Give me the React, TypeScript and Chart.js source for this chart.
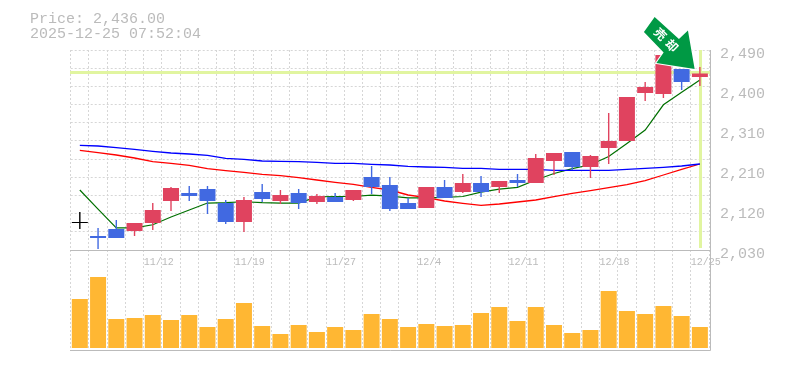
import React, { useEffect, useRef } from "react";
import { Chart, registerables } from "chart.js";

Chart.register(...registerables);

const dates = [
  "11/6","11/7","11/10","11/11","11/12","11/13","11/14","11/17","11/18","11/19",
  "11/20","11/21","11/25","11/26","11/27","11/28","12/1","12/2","12/3","12/4",
  "12/5","12/8","12/9","12/10","12/11","12/12","12/15","12/16","12/17","12/18",
  "12/19","12/22","12/23","12/24","12/25",
];
const shownDates = ["11/12","11/19","11/27","12/4","12/11","12/18","12/25"];

const open = [2092.1,2062.2,2078.3,2073.7,2092.1,2142.7,2161.1,2170.3,2138.1,2094.4,2163.4,2142.7,2161.1,2140.4,2151.9,2145,2197.9,2179.5,2138.1,2126.6,2174.9,2163.4,2184.1,2174.9,2191,2184.1,2234.7,2255.4,2220.9,2264.6,2280.7,2391.1,2388.8,2446.3,2427.9];
const close = [2092.1,2057.6,2057.6,2092.1,2122,2172.6,2154.2,2142.7,2094.4,2145,2147.3,2156.5,2138.1,2154.2,2140.4,2168,2174.9,2124.3,2124.3,2174.9,2149.6,2184.1,2163.4,2188.7,2184.1,2241.6,2253.1,2220.9,2246.2,2280.7,2381.9,2404.9,2478.5,2416.4,2436];
const high = [2117.4,2080.6,2099,2092.1,2138.1,2174.9,2177.2,2177.2,2145,2151.9,2181.8,2168,2170.3,2158.8,2161.1,2168,2223.2,2197.9,2149.6,2174.9,2191,2204.8,2200.2,2188.7,2204.8,2250.8,2253.1,2255.4,2248.5,2345.1,2381.9,2416.4,2478.5,2446.3,2450.9];
const low = [2078.3,2032.3,2057.6,2062.2,2076,2119.7,2142.7,2112.8,2089.8,2071.4,2140.4,2135.8,2124.3,2135.8,2140.4,2142.7,2158.8,2119.7,2124.3,2126.6,2149.6,2161.1,2151.9,2161.1,2174.9,2184.1,2202.5,2214,2195.6,2227.8,2280.7,2372.7,2379.6,2398,2407.2];

const maShort = [2168,2124,2081,2081,2088,2106,2122,2138,2139,2141,2139,2138,2138,2152,2153,2153,2156,2154,2150,2150,2151,2153,2163,2170,2174,2191,2206,2217,2226,2245,2275,2306,2364,2393,2421];
const maMid = [2270.8,2269.2,2265.3,2261.6,2257,2253.1,2250.8,2247.8,2240.9,2238.6,2234.7,2234,2233.1,2231.7,2229.4,2229.4,2227.1,2225.5,2222.5,2220.9,2220.2,2217.9,2217.9,2215.6,2215.6,2215.6,2213.3,2213.3,2213.3,2213.3,2215.6,2217.9,2220.2,2223.2,2227.8];
const maLong = [2259.3,2253.8,2248.5,2241.6,2233.1,2229.4,2224.8,2217,2212.4,2208.7,2204.1,2200.9,2196.3,2191,2185.7,2181.1,2174.2,2168,2156.5,2150.3,2142.7,2137.4,2132.8,2135.8,2140.4,2145,2152.6,2160.4,2166.4,2173.3,2180.2,2189.4,2202.5,2215.6,2227.8];

const volume = [4900,7100,2900,3000,3300,2800,3300,2100,2900,4500,2200,1400,2300,1600,2100,1800,3400,2900,2100,2400,2200,2300,3500,4100,2700,4100,2300,1500,1800,5700,3700,3400,4200,3200,2100];

const priceTicks = [2030,2122,2214,2306,2398,2490];
const priceTickLabels = ["2,030","2,120","2,210","2,310","2,400","2,490"];
const gridValues = [2030,2071.82,2113.64,2155.45,2197.27,2239.09,2280.91,2322.73,2364.55,2406.36,2448.18,2490];

const currentPrice = 2436;
const headerLines = ["Price: 2,436.00", "2025-12-25 07:52:04"];
const arrowLabel = ["売", "却"];

const GREY = "#bbbbbb";
const GRID = "#d6d6d6";
const RED = "#e0435f";
const BLUE = "#4169e1";
const mono = '"Liberation Mono", monospace';

const candleColor = (i: number) =>
  close[i] === open[i] ? "#000000" : close[i] > open[i] ? RED : BLUE;

const overlay = {
  id: "overlay",
  beforeDatasetsDraw(chart: any) {
    const { ctx, chartArea: a, scales } = chart;
    const yS = scales.y;
    const xS = scales.x;
    ctx.save();
    ctx.fillStyle = "#e1f5a0";
    const yNow = Math.round(yS.getPixelForValue(currentPrice));
    ctx.fillRect(a.left - 0.7, yNow - 2, a.right - a.left + 2, 3);
    const xNow = Math.round(xS.getPixelForValue(dates.length - 1));
    ctx.fillRect(xNow - 1, a.top, 3, yS.getPixelForValue(2030) - a.top - 2);
    ctx.strokeStyle = GREY;
    ctx.lineWidth = 1;
    const mid = Math.floor(yS.getPixelForValue(2030)) + 0.5;
    const bot = Math.floor(a.bottom) + 0.5;
    const rx = Math.floor(a.right) + 1.5;
    ctx.beginPath();
    ctx.moveTo(Math.floor(a.left), mid);
    ctx.lineTo(rx, mid);
    ctx.moveTo(Math.floor(a.left), bot);
    ctx.lineTo(rx, bot);
    ctx.moveTo(rx, a.top);
    ctx.lineTo(rx, bot);
    ctx.stroke();
    ctx.restore();
  },
  afterDraw(chart: any) {
    const { ctx, scales } = chart;
    ctx.save();
    ctx.fillStyle = GREY;
    ctx.font = `15px ${mono}`;
    ctx.textAlign = "left";
    ctx.textBaseline = "alphabetic";
    ctx.fillText(headerLines[0], 30, 23);
    ctx.fillText(headerLines[1], 30, 38);

    const tx = scales.x.getPixelForValue(33) + 13;
    const ty = scales.y.getPixelForValue(open[33]);
    const shape = [
      [-40, -52],[-50.7, -37],[-31, -16.6],[-38.3, -6],[0, 0],[-6.7, -38.6],[-15.7, -30],
    ];
    ctx.beginPath();
    shape.forEach(([dx, dy], k) => {
      if (k === 0) ctx.moveTo(tx + dx, ty + dy);
      else ctx.lineTo(tx + dx, ty + dy);
    });
    ctx.closePath();
    ctx.strokeStyle = "#ffffff";
    ctx.lineWidth = 2;
    ctx.lineJoin = "miter";
    ctx.stroke();
    ctx.fillStyle = "#009944";
    ctx.fill();
    ctx.translate(tx - 28.5, ty - 29.3);
    ctx.rotate(Math.PI / 4);
    ctx.fillStyle = "#ffffff";
    ctx.font = 'bold 12px "Noto Sans CJK JP"';
    ctx.textAlign = "center";
    ctx.textBaseline = "middle";
    ctx.fillText(arrowLabel[0], -8.2, 0);
    ctx.fillText(arrowLabel[1], 8.2, 0);
    ctx.restore();
  },
};

export default function App() {
  const ref = useRef<HTMLCanvasElement | null>(null);
  useEffect(() => {
    const canvas = ref.current;
    if (!canvas) return;
    const chart = new Chart(canvas, {
      type: "bar",
      data: {
        labels: dates,
        datasets: [
          { type: "line", label: "MA short", data: maShort, yAxisID: "y", borderColor: "#007000", borderWidth: 1.2, pointRadius: 0, tension: 0, order: 5 },
          { type: "line", label: "MA long", data: maLong, yAxisID: "y", borderColor: "#ff0000", borderWidth: 1.3, pointRadius: 0, tension: 0, order: 6 },
          { type: "line", label: "MA mid", data: maMid, yAxisID: "y", borderColor: "#0000ff", borderWidth: 1.3, pointRadius: 0, tension: 0, order: 4 },
          { label: "Wick", data: dates.map((_, i) => [low[i], high[i]]), yAxisID: "y", backgroundColor: dates.map((_, i) => candleColor(i)), barThickness: 1.4, grouped: false, inflateAmount: 0, order: 2 },
          { label: "Body", data: dates.map((_, i) => [open[i], close[i]]), yAxisID: "y", backgroundColor: dates.map((_, i) => candleColor(i)), barThickness: 16, minBarLength: 1, grouped: false, inflateAmount: 0, order: 1 },
          { label: "Volume", data: volume, yAxisID: "yVol", backgroundColor: "#ffb733", barThickness: 16, grouped: false, inflateAmount: 0, order: 3 },
        ],
      },
      options: {
        responsive: false,
        animation: false,
        layout: { padding: { left: 70.7, top: 50, bottom: 20, right: 0 } },
        plugins: { legend: { display: false }, tooltip: { enabled: false } },
        scales: {
          x: {
            type: "category",
            position: { y: 2030 },
            offset: true,
            grid: { offset: true, color: GRID, drawTicks: false },
            border: { display: false, dash: [2, 2] },
            ticks: {
              autoSkip: false,
              maxRotation: 0,
              minRotation: 0,
              align: "start",
              labelOffset: -9.1,
              padding: 6,
              color: GREY,
              font: { family: mono, size: 10 },
              callback(this: any, value: any) {
                const d = this.getLabelForValue(value);
                return shownDates.includes(d) ? d : "";
              },
            },
          },
          y: {
            position: "right",
            min: 1800,
            max: 2490,
            afterFit(s: any) { s.width = 76; },
            afterBuildTicks(s: any) {
              s.ticks = Array.from(new Set([...gridValues, ...priceTicks]))
                .sort((a, b) => a - b)
                .map((value) => ({ value }));
            },
            grid: {
              drawTicks: false,
              color: (c: any) => (c.tick && gridValues.includes(c.tick.value) ? GRID : "rgba(0,0,0,0)"),
            },
            border: { display: false, dash: [2, 2] },
            ticks: {
              autoSkip: false,
              padding: 11,
              labelOffset: 4,
              color: GREY,
              font: { family: mono, size: 15 },
              callback(value: any) {
                const k = priceTicks.indexOf(value);
                return k >= 0 ? priceTickLabels[k] : "";
              },
            },
          },
          yVol: { display: false, position: "left", min: -200, max: 29800 },
        },
      } as any,
      plugins: [overlay],
    } as any);
    return () => chart.destroy();
  }, []);
  return (
    <div style={{ position: "fixed", left: 0, top: 0 }}>
      <canvas ref={ref} width={785} height={370} style={{ display: "block" }} />
    </div>
  );
}
